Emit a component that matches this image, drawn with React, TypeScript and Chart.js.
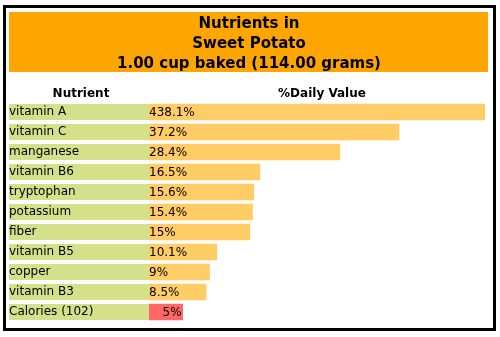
import React, { useEffect, useRef } from "react";
import { Chart, registerables } from "chart.js";

Chart.register(...registerables);

const titleLines = ["Nutrients in", "Sweet Potato", "1.00 cup baked (114.00 grams)"];
const nutrients = [
  "vitamin A",
  "vitamin C",
  "manganese",
  "vitamin B6",
  "tryptophan",
  "potassium",
  "fiber",
  "vitamin B5",
  "copper",
  "vitamin B3",
  "Calories (102)",
];
const dailyValues = [438.1, 37.2, 28.4, 16.5, 15.6, 15.4, 15, 10.1, 9, 8.5, 5];
const valueLabels = ["438.1%", "37.2%", "28.4%", "16.5%", "15.6%", "15.4%", "15%", "10.1%", "9%", "8.5%", "5%"];
const headerNutrient = "Nutrient";
const headerValue = "%Daily Value";
const displayCap = 50;
const highlightCategory = "Calories (102)";

const FONT = "'DejaVu Sans', Verdana, sans-serif";
const GREEN = "#d4e18a";
const ORANGE = "#ffcc66";
const RED = "#ff6666";
const HEADER = "#ffa500";

export default function App() {
  const ref = useRef<HTMLCanvasElement | null>(null);

  useEffect(() => {
    const canvas = ref.current;
    if (!canvas) return;

    const decor = {
      id: "decor",
      beforeDraw(chart: any) {
        const { ctx, chartArea } = chart;
        const yScale = chart.scales.y;
        ctx.save();
        ctx.fillStyle = "#ffffff";
        ctx.fillRect(0, 0, chart.width, chart.height);
        // border
        ctx.strokeStyle = "#000000";
        ctx.lineWidth = 3;
        ctx.strokeRect(4.5, 6.5, 490, 323);
        // header
        ctx.fillStyle = HEADER;
        ctx.fillRect(9, 12, 479, 60);
        ctx.fillStyle = "#000000";
        ctx.font = `bold 15px ${FONT}`;
        ctx.textAlign = "center";
        ctx.textBaseline = "alphabetic";
        titleLines.forEach((t, i) => ctx.fillText(t, 249, 28 + i * 20));
        // column headers
        ctx.font = `bold 12px ${FONT}`;
        ctx.fillText(headerNutrient, (yScale.left + chartArea.left) / 2 + 2, 97);
        ctx.fillText(headerValue, (chartArea.left + chartArea.right) / 2 + 5, 97);
        // green label cells
        ctx.fillStyle = GREEN;
        nutrients.forEach((_, i) => {
          const yc = yScale.getPixelForValue(i);
          ctx.fillRect(yScale.left, yc - 8, chartArea.left - yScale.left, 16);
        });
        ctx.restore();
      },
      afterDatasetsDraw(chart: any) {
        const { ctx } = chart;
        const meta = chart.getDatasetMeta(0);
        ctx.save();
        ctx.fillStyle = "#000000";
        ctx.font = `12px ${FONT}`;
        ctx.textBaseline = "middle";
        meta.data.forEach((bar: any, i: number) => {
          if (nutrients[i] === highlightCategory) {
            ctx.textAlign = "right";
            ctx.fillText(valueLabels[i], bar.x - 1, bar.y + 1);
          } else {
            ctx.textAlign = "left";
            ctx.fillText(valueLabels[i], bar.base, bar.y + 1);
          }
        });
        ctx.restore();
      },
    };

    const chart = new Chart(canvas, {
      type: "bar",
      data: {
        labels: nutrients,
        datasets: [
          {
            data: dailyValues.map((v) => Math.min(v, displayCap)),
            backgroundColor: (c: any) =>
              nutrients[c.dataIndex] === highlightCategory ? RED : ORANGE,
            borderWidth: 0,
            barThickness: 16,
          },
        ],
      },
      options: {
        indexAxis: "y",
        animation: false,
        responsive: false,
        maintainAspectRatio: false,
        layout: { padding: { left: 9, right: 15, top: 102, bottom: 15 } },
        plugins: {
          legend: { display: false },
          title: { display: false },
          tooltip: { enabled: false },
        },
        scales: {
          x: {
            display: false,
            min: 0,
            max: displayCap,
          },
          y: {
            grid: { display: false },
            border: { display: false },
            ticks: {
              crossAlign: "far",
              color: "#000000",
              font: { family: FONT, size: 12 },
              padding: 0,
            },
            afterFit(scale: any) {
              scale.width = 140;
            },
          },
        },
      },
      plugins: [decor],
    } as any);

    return () => chart.destroy();
  }, []);

  return (
    <div style={{ position: "absolute", left: 0, top: 0, width: 500, height: 337 }}>
      <canvas ref={ref} width={500} height={337} style={{ width: 500, height: 337, display: "block" }} />
    </div>
  );
}
